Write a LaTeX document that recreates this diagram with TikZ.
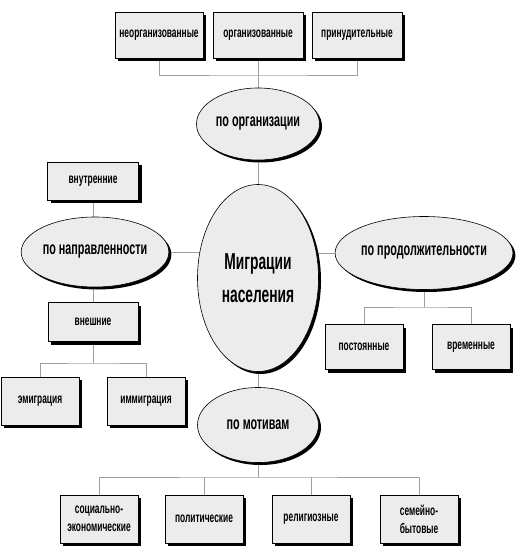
\documentclass[tikz,border=0pt]{standalone}
\usepackage{fontspec}
\setmainfont[FakeStretch=0.6]{Liberation Sans}
\usepackage{tikz}
\usetikzlibrary{shapes,shadows,backgrounds}

\begin{document}
\begin{tikzpicture}[x=1pt,y=-1pt,
    box/.style={draw=black,line width=0.6pt,fill=gray!15,inner sep=1pt,
      minimum width=78pt,minimum height=46pt,align=center,
      font=\bfseries\fontsize{14}{18}\selectfont,
      drop shadow={shadow xshift=3pt,shadow yshift=-3pt,fill=black,opacity=1}},
    oval/.style={ellipse,draw=black,line width=0.6pt,fill=gray!15,inner sep=0pt,
      font=\bfseries\fontsize{18}{22}\selectfont,
      drop shadow={shadow xshift=2.5pt,shadow yshift=-2.5pt,fill=black,opacity=1}},
    link/.style={draw=gray!75,line width=0.9pt}]
\useasboundingbox (0,0) rectangle (516,556);
% top
\node[box,minimum width=88pt] (neorg) at (159,35) {неорганизованные};
\node[box,minimum width=90pt] (org) at (258,35) {организованные};
\node[box,minimum width=90pt] (prin) at (357,35) {принудительные};
\node[oval,minimum width=123pt,minimum height=72pt] (porg) at (258,124) {по организации};
% centre
\node[oval,minimum width=121pt,minimum height=187pt,align=center,
      font=\bfseries\fontsize{23}{33}\selectfont] (migr) at (258,278) {Миграции\\населения};
% left
\node[box,minimum width=91pt,minimum height=38pt] (vnutr) at (93,181) {внутренние};
\node[oval,minimum width=124pt,minimum height=70pt] (pnapr) at (95,252) {по направленности};
\node[box,minimum width=90pt,minimum height=39pt] (vnesh) at (93,322) {внешние};
\node[box,minimum height=48pt] (emig) at (40,401) {эмиграция};
\node[box,minimum height=48pt] (immig) at (146,401) {иммиграция};
% right
\node[oval,minimum width=162pt,minimum height=73pt] (pprod) at (424,253) {по продолжительности};
\node[box,minimum height=45pt] (post) at (364,347) {постоянные};
\node[box,minimum height=45pt] (vrem) at (471,347) {временные};
% bottom
\node[oval,minimum width=121pt,minimum height=75pt] (pmot) at (258,425) {по мотивам};
\node[box,minimum height=48pt] (soc) at (99,519) {социально-\\экономические};
\node[box,minimum height=48pt] (polit) at (204,519) {политические};
\node[box,minimum height=48pt] (relig) at (311,519) {религиозные};
\node[box,minimum height=48pt] (sem) at (419,519) {семейно-\\бытовые};
\coordinate (orgbus) at (258,75);
\coordinate (vbus) at (93,363);
\coordinate (pbus) at (424,307);
\coordinate (mbus) at (258,477);
\begin{scope}[on background layer]
\draw[link] (porg) -- (orgbus);
\draw[link] (neorg) |- (orgbus) -| (prin);
\draw[link] (org) -- (orgbus);
\draw[link] (migr) -- (porg);
\draw[link] (migr) -- (pmot);
\draw[link] (pnapr) -- (pnapr -| migr);
\draw[link] (pprod) -- (pprod -| migr);
\draw[link] (vnutr) -- (vnesh);
\draw[link] (vnesh) -- (vbus);
\draw[link] (emig) |- (vbus) -| (immig);
\draw[link] (pprod) -- (pbus);
\draw[link] (post) |- (pbus) -| (vrem);
\draw[link] (pmot) -- (mbus);
\draw[link] (soc) |- (mbus) -| (sem);
\draw[link] (polit) -- (polit |- mbus);
\draw[link] (relig) -- (relig |- mbus);
\end{scope}
\end{tikzpicture}
\end{document}
